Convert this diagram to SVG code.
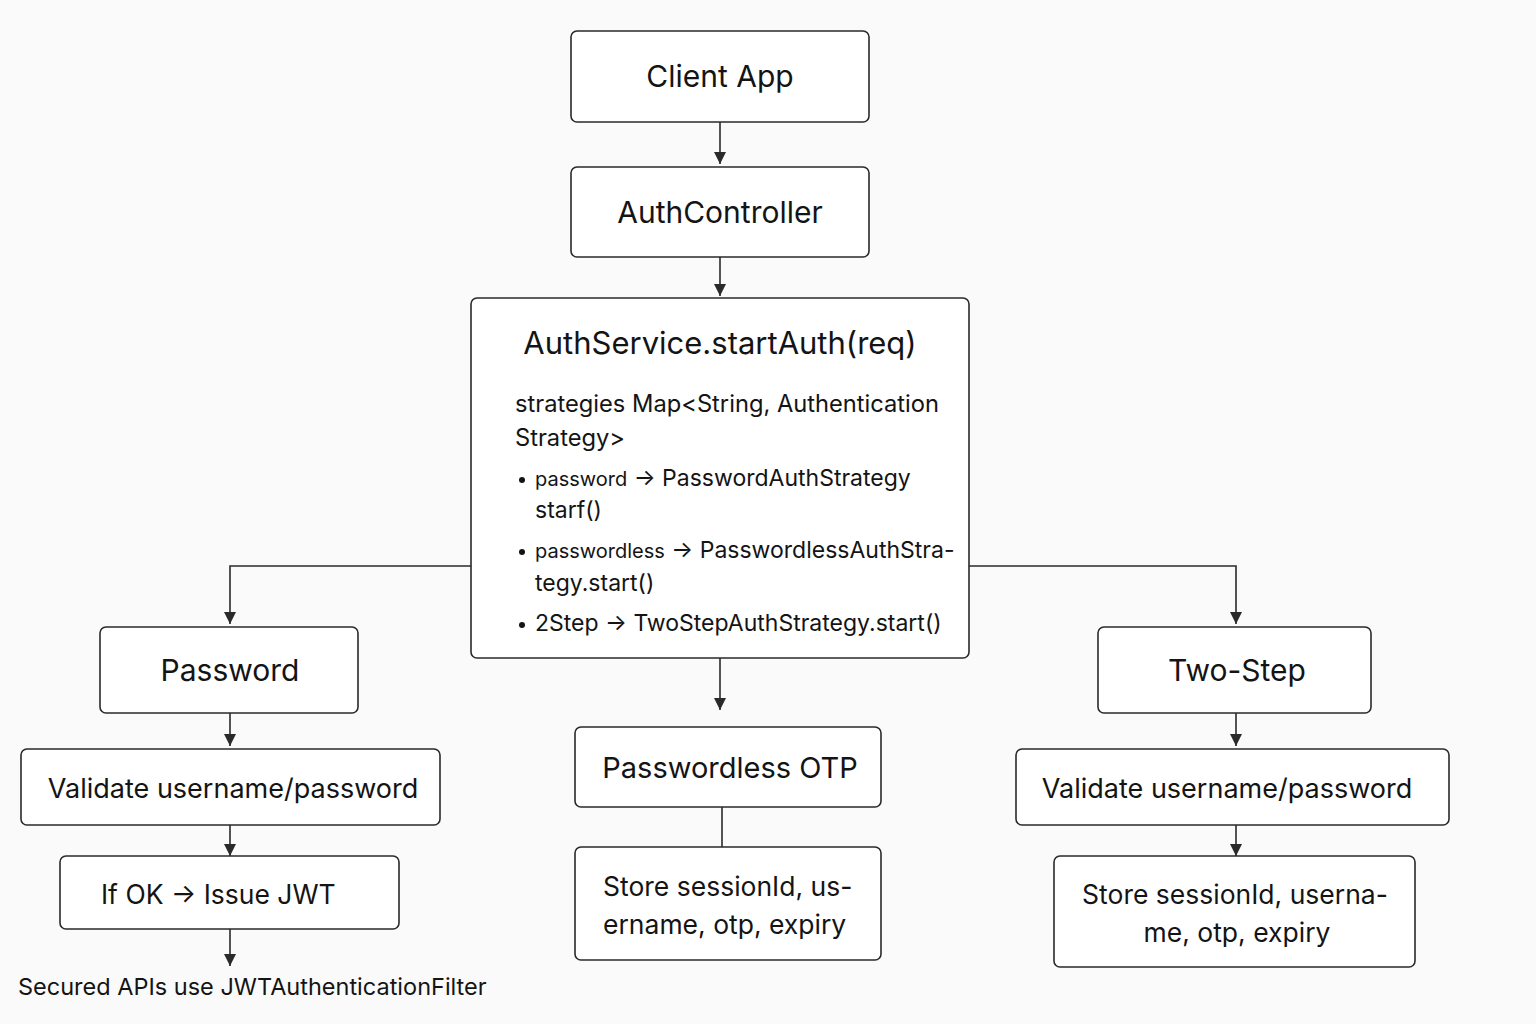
<svg xmlns="http://www.w3.org/2000/svg" width="1536" height="1024" viewBox="0 0 1536 1024">
<defs>
<marker id="ah" markerWidth="12" markerHeight="12" refX="10" refY="5" orient="auto" markerUnits="userSpaceOnUse" viewBox="0 0 10 10">
<path d="M0,0 L10,5 L0,10 Z" fill="#2a2a2a"/>
</marker>
<style>
.box{fill:#ffffff;stroke:#2a2a2a;stroke-width:1.6}
.t{font-family:Inter,"Noto Sans","Liberation Sans",sans-serif;fill:#141414}
.c{text-anchor:middle}
.ln{fill:none;stroke:#2a2a2a;stroke-width:1.6}
</style>
</defs>
<rect width="1536" height="1024" fill="#fafafa"/>
<g id="connectors">
<path class="ln" d="M720,122 V164" marker-end="url(#ah)"/>
<path class="ln" d="M720,257 V296" marker-end="url(#ah)"/>
<path class="ln" d="M471,566 H230 V624" marker-end="url(#ah)"/>
<path class="ln" d="M969,566 H1236 V624" marker-end="url(#ah)"/>
<path class="ln" d="M720,658 V710" marker-end="url(#ah)"/>
<path class="ln" d="M230,713 V746" marker-end="url(#ah)"/>
<path class="ln" d="M230,825 V856" marker-end="url(#ah)"/>
<path class="ln" d="M230,929 V966" marker-end="url(#ah)"/>
<path class="ln" d="M722,807 V847"/>
<path class="ln" d="M1236,713 V746" marker-end="url(#ah)"/>
<path class="ln" d="M1236,825 V856" marker-end="url(#ah)"/>
</g>
<g id="client-app">
<rect class="box" x="571" y="31" width="298" height="91" rx="6"/>
<text class="t c" x="720" y="87" font-size="30">Client App</text>
</g>
<g id="auth-controller">
<rect class="box" x="571" y="167" width="298" height="90" rx="6"/>
<text class="t c" x="720" y="223" font-size="30">AuthController</text>
</g>
<g id="auth-service">
<rect class="box" x="471" y="298" width="498" height="360" rx="6"/>
<text class="t c" x="720" y="354" font-size="31">AuthService.startAuth(req)</text>
<text class="t" x="515" y="412" font-size="23.7">strategies Map&lt;String, Authentication</text>
<text class="t" x="515" y="446" font-size="23.7">Strategy&gt;</text>
<circle cx="522" cy="480" r="3" fill="#141414"/>
<text class="t" x="535" y="486"><tspan font-size="20">password</tspan><tspan font-size="23"> → PasswordAuthStrategy</tspan></text>
<text class="t" x="535" y="518" font-size="23">starf()</text>
<circle cx="522" cy="552" r="3" fill="#141414"/>
<text class="t" x="535" y="558"><tspan font-size="20">passwordless</tspan><tspan font-size="23"> → PasswordlessAuthStra-</tspan></text>
<text class="t" x="535" y="591" font-size="23">tegy.start()</text>
<circle cx="522" cy="625" r="3" fill="#141414"/>
<text class="t" x="535" y="631" font-size="23">2Step → TwoStepAuthStrategy.start()</text>
</g>
<g id="password">
<rect class="box" x="100" y="627" width="258" height="86" rx="6"/>
<text class="t c" x="230" y="681" font-size="30">Password</text>
</g>
<g id="validate-left">
<rect class="box" x="21" y="749" width="419" height="76" rx="6"/>
<text class="t c" x="233" y="798" font-size="27">Validate username/password</text>
</g>
<g id="issue-jwt">
<rect class="box" x="60" y="856" width="339" height="73" rx="6"/>
<text class="t" x="101" y="904" font-size="26.5">If OK → Issue JWT</text>
</g>
<text id="secured-apis" class="t" x="18" y="995" font-size="23.5">Secured APIs use JWTAuthenticationFilter</text>
<g id="passwordless-otp">
<rect class="box" x="575" y="727" width="306" height="80" rx="6"/>
<text class="t c" x="730" y="778" font-size="29">Passwordless OTP</text>
</g>
<g id="store-mid">
<rect class="box" x="575" y="847" width="306" height="113" rx="6"/>
<text class="t" x="603" y="896" font-size="26.5">Store sessionId, us-</text>
<text class="t" x="603" y="934" font-size="26.5">ername, otp, expiry</text>
</g>
<g id="two-step">
<rect class="box" x="1098" y="627" width="273" height="86" rx="6"/>
<text class="t c" x="1237" y="681" font-size="30">Two-Step</text>
</g>
<g id="validate-right">
<rect class="box" x="1016" y="749" width="433" height="76" rx="6"/>
<text class="t c" x="1227" y="798" font-size="27">Validate username/password</text>
</g>
<g id="store-right">
<rect class="box" x="1054" y="856" width="361" height="111" rx="6"/>
<text class="t c" x="1235" y="904" font-size="26.5">Store sessionId, userna-</text>
<text class="t c" x="1237" y="942" font-size="26.5">me, otp, expiry</text>
</g>
</svg>
